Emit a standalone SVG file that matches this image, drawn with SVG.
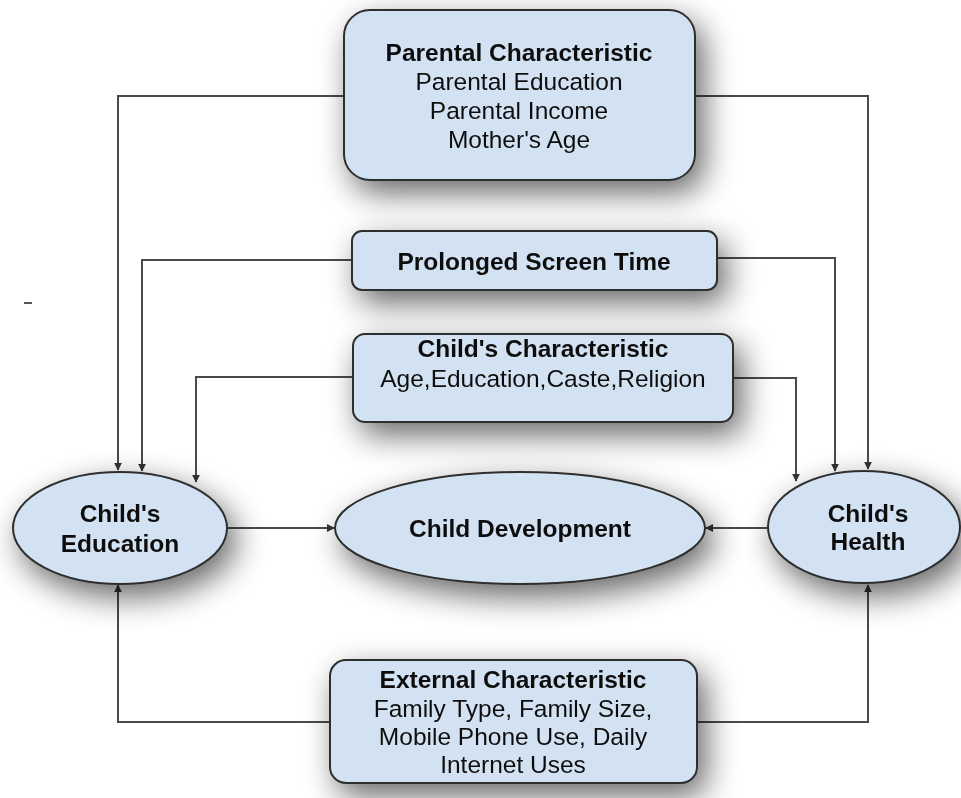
<svg xmlns="http://www.w3.org/2000/svg" width="961" height="798" viewBox="0 0 961 798">
<style>
.box{fill:#d2e2f2;stroke:#2f2f2f;stroke-width:2}
.t{font-family:Arial,"Liberation Sans",sans-serif;font-size:24.5px;fill:#111;text-anchor:middle}
.b{font-weight:bold}
.c{fill:none;stroke:#4a4a4a;stroke-width:2}
</style>
<defs>
<filter id="sh" filterUnits="userSpaceOnUse" x="-100" y="-100" width="1200" height="1000">
<feGaussianBlur in="SourceAlpha" stdDeviation="16"/>
<feOffset dx="8" dy="12" result="o"/>
<feComponentTransfer><feFuncA type="linear" slope="0.6"/></feComponentTransfer>
<feMerge><feMergeNode/><feMergeNode in="SourceGraphic"/></feMerge>
</filter>
<marker id="ah" viewBox="0 0 10 10" refX="9" refY="5" markerWidth="4" markerHeight="4" orient="auto">
<path d="M0,0 L10,5 L0,10 z" fill="#333"/>
</marker>
</defs>
<rect width="961" height="798" fill="#ffffff"/>
<line x1="24" y1="303" x2="32" y2="303" stroke="#555" stroke-width="2"/>
<g id="connectors">
<polyline class="c" points="344,96 118,96 118,470" marker-end="url(#ah)"/>
<polyline class="c" points="695,96 868,96 868,469" marker-end="url(#ah)"/>
<polyline class="c" points="352,260 142,260 142,471" marker-end="url(#ah)"/>
<polyline class="c" points="717,258 835,258 835,471" marker-end="url(#ah)"/>
<polyline class="c" points="353,377 196,377 196,482" marker-end="url(#ah)"/>
<polyline class="c" points="733,378 796,378 796,481" marker-end="url(#ah)"/>
<polyline class="c" points="330,722 118,722 118,585" marker-end="url(#ah)"/>
<polyline class="c" points="697,722 868,722 868,585" marker-end="url(#ah)"/>
<line class="c" x1="227" y1="528" x2="334" y2="528" marker-end="url(#ah)"/>
<line class="c" x1="767" y1="528" x2="706" y2="528" marker-end="url(#ah)"/>
</g>
<g id="parental" filter="url(#sh)">
<rect class="box" x="344" y="10" width="351" height="170" rx="26"/>
<text class="t b" x="519" y="61">Parental Characteristic</text>
<text class="t" x="519" y="90">Parental Education</text>
<text class="t" x="519" y="119">Parental Income</text>
<text class="t" x="519" y="148">Mother's Age</text>
</g>
<g id="screen" filter="url(#sh)">
<rect class="box" x="352" y="231" width="365" height="59" rx="10"/>
<text class="t b" x="534" y="270">Prolonged Screen Time</text>
</g>
<g id="childchar" filter="url(#sh)">
<rect class="box" x="353" y="334" width="380" height="88" rx="12"/>
<text class="t b" x="543" y="357">Child's Characteristic</text>
<text class="t" x="543" y="387">Age,Education,Caste,Religion</text>
</g>
<g id="education" filter="url(#sh)">
<ellipse class="box" cx="120" cy="528" rx="107" ry="56"/>
<text class="t b" x="120" y="522">Child's</text>
<text class="t b" x="120" y="552">Education</text>
</g>
<g id="development" filter="url(#sh)">
<ellipse class="box" cx="520" cy="528" rx="185" ry="56"/>
<text class="t b" x="520" y="537">Child Development</text>
</g>
<g id="health" filter="url(#sh)">
<ellipse class="box" cx="864" cy="527" rx="96" ry="56"/>
<text class="t b" x="868" y="522">Child's</text>
<text class="t b" x="868" y="550">Health</text>
</g>
<g id="external" filter="url(#sh)">
<rect class="box" x="330" y="660" width="367" height="123" rx="16"/>
<text class="t b" x="513" y="688">External Characteristic</text>
<text class="t" x="513" y="717">Family Type, Family Size,</text>
<text class="t" x="513" y="745">Mobile Phone Use, Daily</text>
<text class="t" x="513" y="773">Internet Uses</text>
</g>
</svg>
